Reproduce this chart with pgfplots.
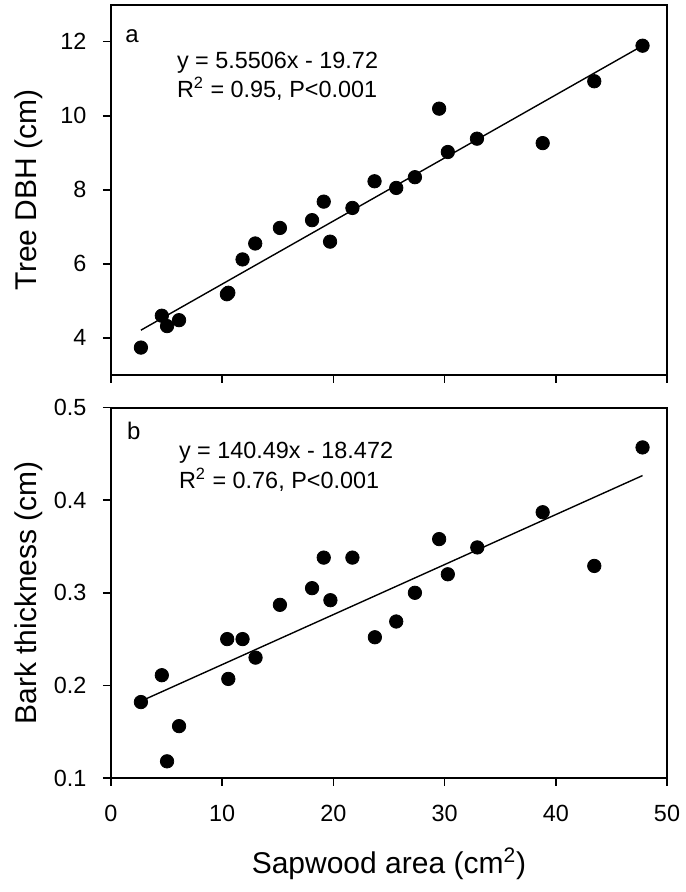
\documentclass[border=0pt]{standalone}
\usepackage{pgfplots}
\pgfplotsset{compat=1.18}
\usepackage{fontspec}
\setmainfont{Liberation Sans}
\pgfplotstableread{
x y
2.69 3.74
4.57 4.60
5.04 4.32
6.12 4.48
10.42 5.18
10.55 5.22
11.83 6.12
12.97 6.55
15.19 6.97
18.08 7.18
19.13 7.68
19.70 6.60
21.71 7.51
23.70 8.23
25.65 8.05
27.33 8.34
29.51 10.19
30.29 9.02
32.91 9.38
38.82 9.26
43.46 10.93
47.80 11.89
}\dbh
\pgfplotstableread{
x y
2.69 0.182
4.57 0.211
5.04 0.118
6.12 0.156
10.45 0.250
10.55 0.207
11.83 0.250
13.00 0.230
15.19 0.287
18.08 0.305
19.13 0.338
19.73 0.292
21.71 0.338
23.73 0.252
25.65 0.269
27.33 0.300
29.51 0.358
30.29 0.320
32.94 0.349
38.82 0.387
43.46 0.329
47.80 0.457
}\bark
\pgfplotsset{panel/.style={
  scale only axis, width=278pt, height=185.2pt, anchor=south west,
  xmin=0, xmax=50, xtick={0,10,20,30,40,50},
  line width=1pt,
  tick align=outside, major tick length=4pt,
  tick style={line width=0.8pt, black},
  xtick pos=bottom, ytick pos=left,
  tick label style={font=\fontsize{11.7}{14}\selectfont},
  yticklabel style={xshift=-4.5pt},
  xticklabel style={yshift=-5.5pt},
  /pgf/number format/assume math mode=true,
  label style={font=\fontsize{15}{18}\selectfont},
  ylabel style={at={(axis description cs:-0.1331,0.5)}, anchor=base},
  xlabel style={at={(axis description cs:0.5,-0.2568)}, anchor=base},
}}
\begin{document}
\begin{tikzpicture}
\useasboundingbox (0,0) rectangle (342.5pt,446pt);
\begin{axis}[panel, at={(55.5pt,258.5pt)},
  ymin=3, ymax=13, ytick={4,6,8,10,12}, xticklabels={},
  ylabel={Tree DBH (cm)}]
\addplot[only marks, mark=*, mark size=3.35pt, mark options={fill=black, draw=black, line width=0.4pt}] table[x=x,y=y]{\dbh};
\addplot[black, line width=0.7pt, no marks] coordinates {(2.69,4.21) (47.8,11.89)};
\node[anchor=base west, inner sep=0, font=\fontsize{12}{14}\selectfont] at (axis cs:1.2,11.98) {a};
\node[anchor=base west, inner sep=0, font=\fontsize{11.7}{14}\selectfont] at (axis cs:5.85,11.27) {y = 5.5506x - 19.72};
\node[anchor=base west, inner sep=0, font=\fontsize{11.7}{14}\selectfont] at (axis cs:5.85,10.49) {R\textsuperscript{2} = 0.95, P<0.001};
\end{axis}
\begin{axis}[panel, at={(55.5pt,57pt)},
  ymin=0.1, ymax=0.5, ytick={0.1,0.2,0.3,0.4,0.5},
  yticklabel style={/pgf/number format/fixed, /pgf/number format/precision=1},
  ylabel={Bark thickness (cm)},
  xlabel={Sapwood area (cm\textsuperscript{2})}]
\addplot[only marks, mark=*, mark size=3.35pt, mark options={fill=black, draw=black, line width=0.4pt}] table[x=x,y=y]{\bark};
\addplot[black, line width=0.7pt, no marks] coordinates {(2.69,0.183) (47.8,0.4266)};
\node[anchor=base west, inner sep=0, font=\fontsize{12}{14}\selectfont] at (axis cs:1.35,0.466) {b};
\node[anchor=base west, inner sep=0, font=\fontsize{11.7}{14}\selectfont] at (axis cs:6.03,0.4445) {y = 140.49x - 18.472};
\node[anchor=base west, inner sep=0, font=\fontsize{11.7}{14}\selectfont] at (axis cs:6.03,0.413) {R\textsuperscript{2} = 0.76, P<0.001};
\end{axis}
\end{tikzpicture}
\end{document}
